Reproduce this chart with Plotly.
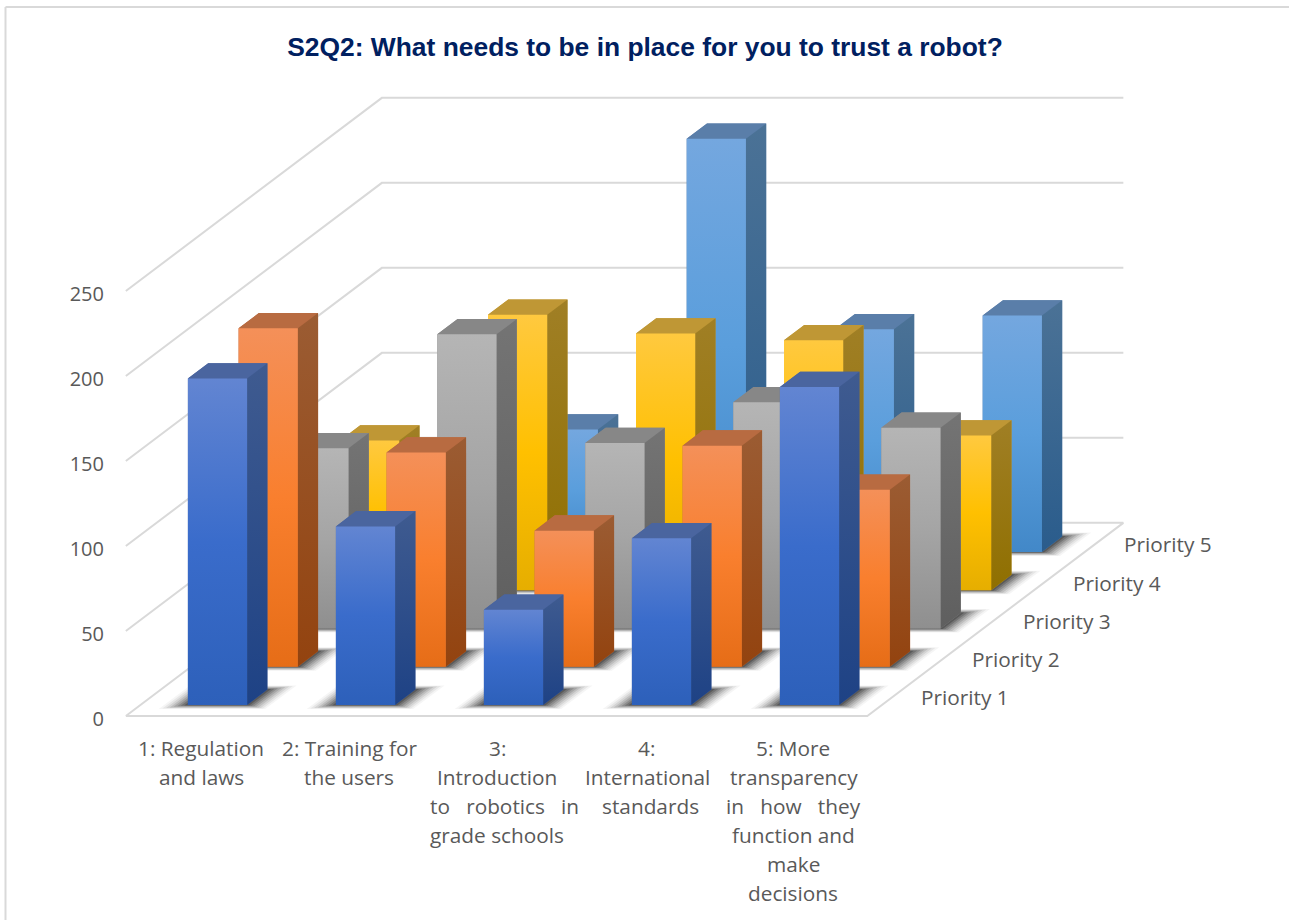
import plotly.graph_objects as go

# Survey counts per answer option, one list per priority rank
CATEGORIES = ["1: Regulation and laws", "2: Training for the users",
              "3: Introduction to robotics in grade schools",
              "4: International standards",
              "5: More transparency in how they function and make decisions"]
PRIORITY_1 = [192, 105, 56, 98, 187]
PRIORITY_2 = [199, 126, 80, 130, 104]
PRIORITY_3 = [106, 173, 109, 133, 118]
PRIORITY_4 = [88, 162, 151, 147, 91]
PRIORITY_5 = [55, 72, 243, 131, 139]
SERIES_NAMES = ["Priority 1", "Priority 2", "Priority 3", "Priority 4", "Priority 5"]
SERIES = [PRIORITY_1, PRIORITY_2, PRIORITY_3, PRIORITY_4, PRIORITY_5]
VALUE_TICKS = [0, 50, 100, 150, 200, 250]

# Wrapped category labels: (text, horizontal nudge in px)
NB3 = "\u00a0\u00a0\u00a0"
CATEGORY_LINES = [
    [("1: Regulation", 0), ("and laws", 0)],
    [("2: Training for", 0), ("the users", 0)],
    [("3:", 0), ("Introduction", 0), (f"to{NB3}robotics{NB3}in", 7), ("grade schools", 0)],
    [("4:", 1), ("International", 2), ("standards", 5)],
    [("5: More", 0), ("transparency", 1), (f"in{NB3}how{NB3}they", 0),
     ("function and", 0), ("make", 0), ("decisions", 0)],
]

# Face colours per series: front (bottom, middle, top), side (bottom, top), lid
FACE_COLORS = [
    dict(front=("#2d60ba", "#3a6ccb", "#6285d2"), side=("#1e4285", "#3f5b90"), lid="#4a659f"),
    dict(front=("#e66d17", "#f97f2e", "#f49059"), side=("#93430f", "#9b5c33"), lid="#b86b41"),
    dict(front=("#8f8f8f", "#a5a5a5", "#b5b5b5"), side=("#5f5f5f", "#747474"), lid="#878787"),
    dict(front=("#e6ae00", "#ffc000", "#ffc93f"), side=("#8f6f00", "#a07f25"), lid="#bf9735"),
    dict(front=("#4288c8", "#5a9edc", "#74a7df"), side=("#2a5c8c", "#4b7296"), lid="#5a7ea9"),
]

W, H = 1289, 920
PX_PER_CAT = 148.0
PX_PER_VALUE = 1.7
ROW_DX = 50.7 / PX_PER_CAT        # sideways shift of one row, in category units
ROW_DY = 38.25 / PX_PER_VALUE     # upward shift of one row, in value units
BAR_HALF = 0.2
BAR_DEPTH = 0.4
FLOOR_D = (-0.29, 4.76)
FLOOR_C = (-0.52, 4.49)
GRID = "#d9d9d9"
TEXT = "#595959"
AXIS_LEFT_PX = 105
ORIGIN_PX = (217.5, 716.0)


def project(c, d, v):
    """Oblique projection of (category, row, value) to plot coordinates."""
    return c + d * ROW_DX, v + (d - FLOOR_D[0]) * ROW_DY


def poly(points):
    xy = [project(*p) for p in points]
    return [p[0] for p in xy] + [xy[0][0]], [p[1] for p in xy] + [xy[0][1]]


fig = go.Figure()

# Floor outline and wall gridlines
x, y = poly([(FLOOR_C[0], FLOOR_D[0], 0), (FLOOR_C[1], FLOOR_D[0], 0),
             (FLOOR_C[1], FLOOR_D[1], 0), (FLOOR_C[0], FLOOR_D[1], 0)])
fig.add_trace(go.Scatter(x=x, y=y, mode="lines", line=dict(color=GRID, width=2), hoverinfo="skip"))
for tick in VALUE_TICKS[1:]:
    pts = [project(FLOOR_C[0], FLOOR_D[0], tick), project(FLOOR_C[0], FLOOR_D[1], tick),
           project(FLOOR_C[1], FLOOR_D[1], tick)]
    fig.add_trace(go.Scatter(x=[p[0] for p in pts], y=[p[1] for p in pts], mode="lines",
                             line=dict(color=GRID, width=2), hoverinfo="skip"))

# Soft floor shadows: nested translucent footprints that darken toward the bar
SHADOW_SPREAD = [(0.16, 0.11, 0.04), (0.14, 0.095, 0.06), (0.12, 0.08, 0.08), (0.10, 0.065, 0.10),
                 (0.08, 0.05, 0.12), (0.06, 0.035, 0.15), (0.04, 0.025, 0.18), (0.02, 0.015, 0.22)]
for row in range(5):
    for c in range(5):
        dm = row + BAR_DEPTH / 2
        for grow_c, grow_d, alpha in SHADOW_SPREAD:
            hw = BAR_HALF + grow_c
            hd = BAR_DEPTH / 2 + grow_d
            x, y = poly([(c - hw, dm - hd, 0), (c + hw, dm - hd, 0),
                         (c + hw, dm + hd, 0), (c - hw, dm + hd, 0)])
            fig.add_trace(go.Scatter(x=x, y=y, mode="lines", fill="toself",
                                     fillcolor=f"rgba(0,0,0,{alpha})", line=dict(width=0),
                                     hoverinfo="skip"))


def face(points, colors):
    x, y = poly(points)
    if isinstance(colors, str):
        style = dict(fillcolor=colors)
    else:
        stops = [i / (len(colors) - 1) for i in range(len(colors))]
        style = dict(fillgradient=dict(type="vertical",
                                       colorscale=[[s, col] for s, col in zip(stops, colors)]))
    fig.add_trace(go.Scatter(x=x, y=y, mode="lines", fill="toself", line=dict(width=0),
                             hoverinfo="skip", **style))


# Bars, painted from the back row to the front row; a silhouette closes the seams between faces
for row in range(4, -1, -1):
    colors = FACE_COLORS[row]
    for c, value in enumerate(SERIES[row]):
        l, r = c - BAR_HALF, c + BAR_HALF
        f, b = row, row + BAR_DEPTH
        face([(l, f, 0), (r, f, 0), (r, b, 0), (r, b, value), (l, b, value), (l, f, value)],
             colors["lid"])
        face([(l, f, value), (r, f, value), (r, b, value), (l, b, value)], colors["lid"])
        face([(r, f, 0), (r, b, 0), (r, b, value), (r, f, value)], colors["side"])
        face([(l, f, 0), (r, f, 0), (r, f, value), (l, f, value)], colors["front"])

annotations = []
LABEL_FONT = dict(family="Open Sans", size=20.8, color=TEXT)

# Category labels, one annotation per wrapped line
for c, lines in enumerate(CATEGORY_LINES):
    for i, (text, nudge) in enumerate(lines):
        annotations.append(dict(text=text, x=c - 16.5 / PX_PER_CAT, xref="x", xanchor="center",
                                xshift=nudge, y=1 - (748 + 29 * i) / H, yref="paper",
                                yanchor="middle", showarrow=False, font=LABEL_FONT))

# Row labels beside the right edge of the floor
for row, name in enumerate(SERIES_NAMES):
    lx, ly = project(FLOOR_C[1], row + 0.2, 0)
    annotations.append(dict(text=name, x=lx, y=ly, xref="x", yref="y", xanchor="left",
                            yanchor="middle", xshift=27, showarrow=False, font=LABEL_FONT))

x_range = [(AXIS_LEFT_PX - ORIGIN_PX[0]) / PX_PER_CAT, (W - ORIGIN_PX[0]) / PX_PER_CAT]
y_range = [(ORIGIN_PX[1] - H) / PX_PER_VALUE, ORIGIN_PX[1] / PX_PER_VALUE]

fig.update_layout(
    width=W, height=H, autosize=False,
    margin=dict(l=0, r=0, t=0, b=0, pad=0),
    paper_bgcolor="white", plot_bgcolor="white", showlegend=False,
    title=dict(text="<b>S2Q2: What needs to be in place for you to trust a robot?</b>",
               x=645 / W, xanchor="center", xref="paper", y=1 - 47 / H, yanchor="middle",
               yref="paper", font=dict(family="Liberation Sans", size=26.4, color="#002060")),
    xaxis=dict(domain=[AXIS_LEFT_PX / W, 1], range=x_range, visible=False),
    yaxis=dict(range=y_range, tickmode="array", tickvals=VALUE_TICKS,
               ticktext=[str(t) for t in VALUE_TICKS], showgrid=False, zeroline=False,
               showline=False, ticks="", automargin=False, ticklabelshift=3,
               tickfont=dict(family="Open Sans", size=20, color=TEXT)),
    annotations=annotations,
    shapes=[
        dict(type="line", xref="paper", yref="paper", x0=5.5 / W, x1=1, y0=1 - 7 / H, y1=1 - 7 / H,
             line=dict(color=GRID, width=2)),
        dict(type="line", xref="paper", yref="paper", x0=5.5 / W, x1=5.5 / W, y0=1 - 7 / H, y1=0,
             line=dict(color=GRID, width=2)),
    ],
)

fig.write_html("out.html", config=dict(displayModeBar=False))
